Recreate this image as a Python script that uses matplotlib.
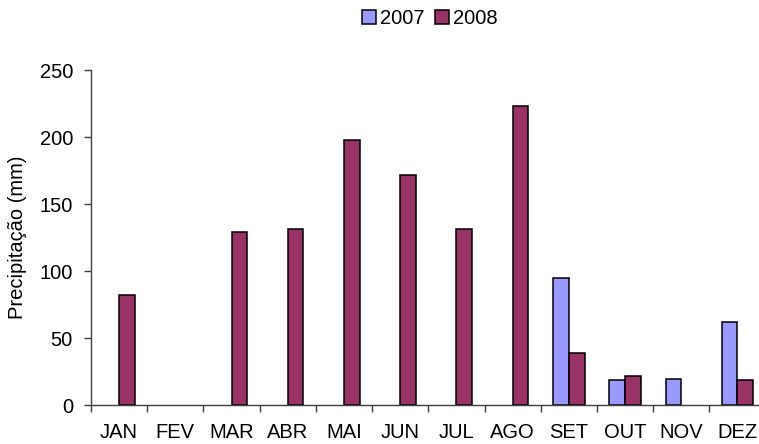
import matplotlib
matplotlib.use("Agg")
import matplotlib.pyplot as plt
import numpy as np

months = ["JAN", "FEV", "MAR", "ABR", "MAI", "JUN", "JUL", "AGO", "SET", "OUT", "NOV", "DEZ"]
prec_2007 = [0, 0, 0, 0, 0, 0, 0, 0, 94.5, 18.5, 19.5, 62]
prec_2008 = [82, 0, 129, 131, 198, 172, 131, 223, 38.5, 22, 0, 18.5]
series_labels = ["2007", "2008"]
yticks = [0, 50, 100, 150, 200, 250]

plt.rcParams['font.family'] = ['Liberation Sans', 'DejaVu Sans']
FS = 14.5
plt.rcParams['font.size'] = FS

W, H = 759, 444
fig = plt.figure(figsize=(W / 100, H / 100), dpi=100)
left, bottom, top = 91 / W, (H - 405) / H, (H - 70) / H
right = 765.6 / W
ax = fig.add_axes([left, bottom, right - left, top - bottom])

x = np.arange(len(months))
bw = 0.28
v07 = np.array(prec_2007, dtype=float)
v08 = np.array(prec_2008, dtype=float)
m07 = v07 > 0
m08 = v08 > 0
b1 = ax.bar(x[m07] - bw / 2, v07[m07], width=bw, color="#9999FF", edgecolor="black", linewidth=1.1, label=series_labels[0])
b2 = ax.bar(x[m08] + bw / 2, v08[m08], width=bw, color="#993366", edgecolor="black", linewidth=1.1, label=series_labels[1])

ax.set_xlim(-0.5, len(months) - 0.5)
ax.set_ylim(0, 250)
ax.set_yticks(yticks)
ax.set_xticks(np.arange(len(months) + 1) - 0.5)
ax.set_xticklabels([])
ax.set_xticks(x, minor=True)
ax.set_xticklabels(months, minor=True)
ax.tick_params(axis="x", which="major", direction="out", length=5, width=1, color="#404040")
ax.tick_params(axis="x", which="minor", length=0, pad=13)
ax.tick_params(axis="y", direction="out", length=5, width=1, color="#404040", pad=8)

for s in ["top", "right"]:
    ax.spines[s].set_visible(False)
for s in ["left", "bottom"]:
    ax.spines[s].set_color("#404040")
    ax.spines[s].set_linewidth(1)

ax.set_ylabel("Precipitação (mm)")
ax.yaxis.set_label_coords((27 - 91) / (right * W - 91), 0.5)

fig.legend(handles=[b1, b2], labels=series_labels, loc="center", bbox_to_anchor=(430 / W, 1 - 19 / H),
           ncol=2, frameon=False, handlelength=0.7, handleheight=0.7, handletextpad=0.2,
           columnspacing=0.5, borderpad=0, fontsize=FS)

fig.savefig("out.png", dpi=100)
